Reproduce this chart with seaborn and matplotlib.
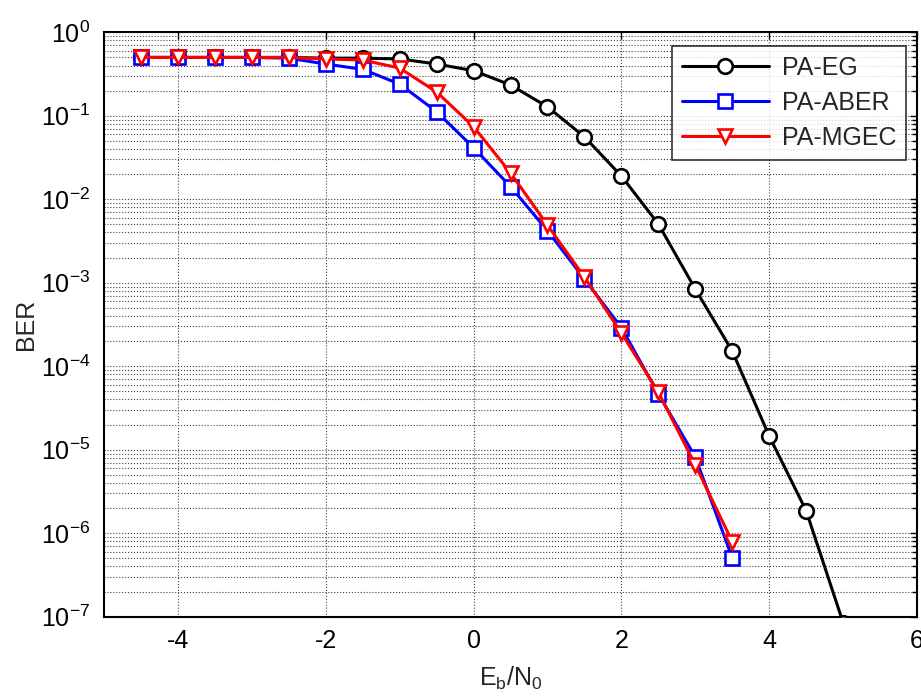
import numpy as np
import pandas as pd
import matplotlib
matplotlib.use("Agg")
import matplotlib.pyplot as plt
import matplotlib.ticker as mticker
import seaborn as sns

# ---- data ----
snr = [-4.5, -4.0, -3.5, -3.0, -2.5, -2.0, -1.5, -1.0, -0.5, 0.0, 0.5, 1.0,
       1.5, 2.0, 2.5, 3.0, 3.5, 4.0, 4.5, 5.0]
ber_eg = [0.50, 0.50, 0.50, 0.50, 0.50, 0.49, 0.49, 0.48, 0.417, 0.347, 0.234,
          0.128, 0.056, 0.019, 0.00506, 8.4e-4, 1.52e-4, 1.46e-5, 1.86e-6, 8.5e-8]
snr_ab = snr[:17]
ber_aber = [0.50, 0.50, 0.50, 0.50, 0.49, 0.417, 0.36, 0.24, 0.112, 0.0415,
            0.0142, 0.0042, 0.00111, 2.9e-4, 4.66e-5, 8.2e-6, 5.06e-7]
ber_mgec = [0.50, 0.50, 0.50, 0.50, 0.50, 0.48, 0.465, 0.373, 0.193, 0.074,
            0.0207, 0.0049, 0.00117, 2.5e-4, 4.9e-5, 6.6e-6, 7.9e-7]
labels = ["PA-EG", "PA-ABER", "PA-MGEC"]
colors = ["black", "blue", "red"]
markers = ["o", "s", "v"]
xticks = [-4, -2, 0, 2, 4, 6]

sns.set_style("white")
plt.rcParams["font.family"] = ["Liberation Sans", "DejaVu Sans"]
plt.rcParams["mathtext.fontset"] = "custom"
plt.rcParams["mathtext.rm"] = "Liberation Sans"
plt.rcParams["mathtext.it"] = "Liberation Sans"
plt.rcParams["mathtext.bf"] = "Liberation Sans:bold"

FS = 18

fig = plt.figure(figsize=(9.21, 6.99), dpi=100)
ax = fig.add_axes([104 / 921, 82.3 / 699, 813 / 921, 584.4 / 699])

series = [(snr, ber_eg), (snr_ab, ber_aber), (snr_ab, ber_mgec)]
for (xs, ys), lab, c, m in zip(series, labels, colors, markers):
    df = pd.DataFrame({"x": xs, "y": ys})
    sns.lineplot(data=df, x="x", y="y", ax=ax, color=c, marker=m, label=lab,
                 linewidth=2.2, markersize=10.5, markerfacecolor="white",
                 markeredgecolor=c, markeredgewidth=1.9, zorder=3)

ax.set_yscale("log")
ax.set_xlim(-5, 6)
ax.set_ylim(1e-7, 1)
ax.set_xticks(xticks)
ax.xaxis.set_major_formatter(mticker.FuncFormatter(lambda v, p: f"{int(v)}"))
ax.yaxis.set_major_locator(mticker.LogLocator(base=10, numticks=20))
ax.yaxis.set_minor_locator(mticker.LogLocator(base=10, subs=np.arange(2, 10), numticks=20))
ax.yaxis.set_minor_formatter(mticker.NullFormatter())
ax.yaxis.set_major_formatter(mticker.FuncFormatter(
    lambda v, p: r"$\mathregular{10^{%d}}$" % int(round(np.log10(v)))))

ax.grid(True, which="major", axis="x", linestyle=":", color="#444444", linewidth=0.8)
ax.grid(True, which="both", axis="y", linestyle=":", color="#444444", linewidth=0.8)

ax.tick_params(which="both", direction="in", top=True, right=True,
               labelsize=FS, colors="black")
ax.tick_params(which="major", length=5, width=1.0)
ax.tick_params(axis="x", which="major", pad=9)
ax.tick_params(axis="y", which="major", pad=10)
ax.tick_params(which="minor", length=3.5, width=1.0)
for s in ax.spines.values():
    s.set_linewidth(1.5)
    s.set_color("black")

ax.set_xlabel(r"$\mathregular{E_b/N_0}$", fontsize=FS, labelpad=8)
ax.set_ylabel("BER", fontsize=FS, labelpad=2)

leg = ax.legend(loc="upper right", bbox_to_anchor=(0.9865, 0.977), borderaxespad=0,
                fontsize=FS, frameon=True, fancybox=False, edgecolor="black",
                handlelength=3.5, handletextpad=0.5, labelspacing=0.45,
                borderpad=0.4)
leg.get_frame().set_linewidth(1.2)
leg.set_zorder(5)

fig.savefig("out.png", dpi=100)
